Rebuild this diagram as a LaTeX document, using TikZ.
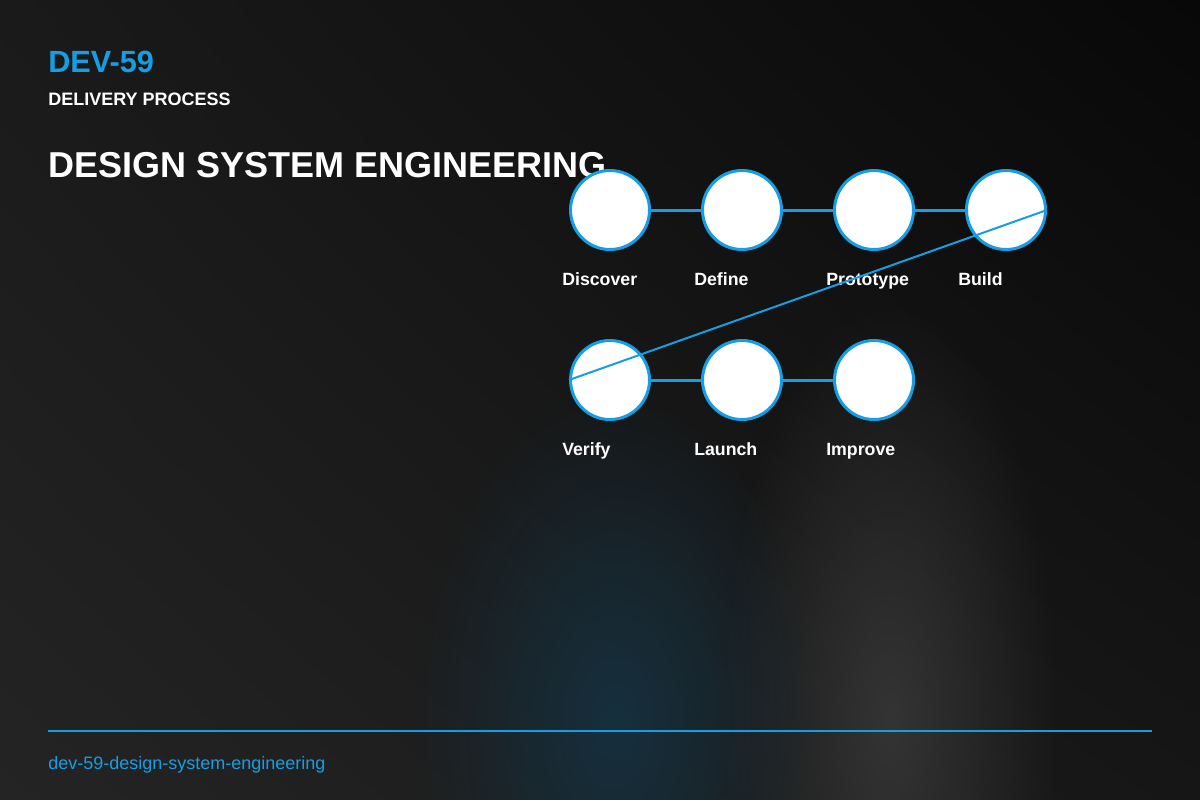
\documentclass[tikz,border=0pt]{standalone}
\usepackage{fontspec}
\setmainfont{Liberation Sans}
\usetikzlibrary{fadings,shadings}
\definecolor{accent}{RGB}{22,158,228}
\definecolor{glowgray}{RGB}{52,52,52}
\definecolor{glowblue}{RGB}{22,48,62}
\definecolor{bgul}{RGB}{26,26,26}
\definecolor{bgur}{RGB}{8,8,8}
\definecolor{bgll}{RGB}{36,36,36}
\definecolor{bglr}{RGB}{22,22,22}
\tikzfading[name=glow, inner color=transparent!0, outer color=transparent!100]
\tikzset{
  stage/.style={circle, draw=accent, fill=white, line width=2.25pt, minimum size=59.25pt, inner sep=0pt},
  conn/.style={draw=accent, line width=2.25pt},
  diag/.style={draw=accent, line width=1.5pt},
  lbl/.style={anchor=base west, inner sep=0pt, text=white, font=\bfseries\fontsize{13.3}{16}\selectfont},
}
\begin{document}
\begin{tikzpicture}[x=0.75pt,y=-0.75pt]
\useasboundingbox (0,0) rectangle (1200,800);
\shade[upper left=bgul, upper right=bgur, lower left=bgll, lower right=bglr]
  (0,0) rectangle (1200,800);
\fill[glowgray, path fading=glow] (890,720) ellipse (170 and 420);
\fill[glowblue, path fading=glow] (615,720) ellipse (200 and 330);
% header
\node[anchor=base west, inner sep=0pt, text=accent, font=\bfseries\fontsize{23}{27}\selectfont] (code) at (48,72) {DEV-59};
\node[anchor=base west, inner sep=0pt, text=white, font=\bfseries\fontsize{13.5}{16}\selectfont] (kind) at (48,105) {DELIVERY PROCESS};
\node[anchor=base west, inner sep=0pt, text=white, font=\bfseries\fontsize{27}{32}\selectfont] (title) at (48,177) {DESIGN SYSTEM ENGINEERING};
% stages
\node[stage] (s1) at (610,210) {};
\node[stage] (s2) at (742,210) {};
\node[stage] (s3) at (874,210) {};
\node[stage] (s4) at (1006,210) {};
\node[stage] (s5) at (610,380) {};
\node[stage] (s6) at (742,380) {};
\node[stage] (s7) at (874,380) {};
\draw[conn] (s1) -- (s2);
\draw[conn] (s2) -- (s3);
\draw[conn] (s3) -- (s4);
\draw[conn] (s5) -- (s6);
\draw[conn] (s6) -- (s7);
\node[lbl] (l1) at (562,285) {Discover};
\node[lbl] (l2) at (694,285) {Define};
\node[lbl] (l3) at (826,285) {Prototype};
\node[lbl] (l4) at (958,285) {Build};
\node[lbl] (l5) at (562,455) {Verify};
\node[lbl] (l6) at (694,455) {Launch};
\node[lbl] (l7) at (826,455) {Improve};
\draw[diag] (s4.east) -- (s5.west);
% footer
\coordinate (fl) at (48,731);
\coordinate (fr) at (1152,731);
\draw[accent, line width=1.5pt] (fl) -- (fr);
\node[anchor=base west, inner sep=0pt, text=accent, font=\fontsize{13.5}{16}\selectfont] (slug) at (48,769) {dev-59-design-system-engineering};
\end{tikzpicture}
\end{document}
